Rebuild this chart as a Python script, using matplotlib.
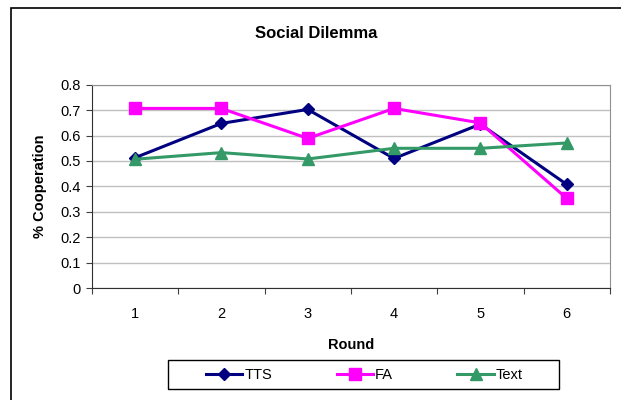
import matplotlib
matplotlib.use("Agg")
import matplotlib.pyplot as plt
from matplotlib.patches import Rectangle

# dados
rounds = [1, 2, 3, 4, 5, 6]
tts = [0.513, 0.648, 0.703, 0.510, 0.645, 0.408]
fa = [0.707, 0.707, 0.589, 0.707, 0.650, 0.353]
text = [0.507, 0.533, 0.508, 0.550, 0.550, 0.571]
yticks = [0, 0.1, 0.2, 0.3, 0.4, 0.5, 0.6, 0.7, 0.8]

plt.rcParams['font.family'] = ['Liberation Sans', 'DejaVu Sans']

fig = plt.figure(figsize=(6.21, 4.0), dpi=100)
ax = fig.add_axes([0.148, 0.28, 0.834, 0.508])

ax.plot(rounds, tts, color='#000080', lw=2.2, marker='D', ms=6.5, label='TTS')
ax.plot(rounds, fa, color='#FF00FF', lw=2.2, marker='s', ms=8, label='FA')
ax.plot(rounds, text, color='#339966', lw=2.2, marker='^', ms=8.5, label='Text')

ax.set_xlim(0.5, 6.5)
ax.set_ylim(0, 0.8)
ax.set_yticks(yticks)
ax.set_yticklabels([f"{v:g}" for v in yticks])
ax.set_xticks([r - 0.5 for r in rounds] + [6.5])
ax.set_xticklabels([])
ax.set_xticks(rounds, minor=True)
ax.set_xticklabels([str(r) for r in rounds], minor=True)
ax.tick_params(axis='x', which='minor', length=0, pad=14, labelsize=10.5)
ax.tick_params(axis='x', which='major', length=4, direction='out', color='#404040')
ax.tick_params(axis='y', length=4, direction='out', color='#404040', labelsize=10.5, pad=4)

ax.grid(axis='y', color='#c0c0c0', lw=1)
ax.set_axisbelow(True)
for s in ['top', 'right']:
    ax.spines[s].set_color('#909090')
for s in ['left', 'bottom']:
    ax.spines[s].set_color('#303030')

ax.set_xlabel("Round", fontsize=10.5, fontweight='bold', labelpad=12)
ax.set_ylabel("% Cooperation", fontsize=10.5, fontweight='bold', labelpad=10)
fig.text(0.509, 0.915, "Social Dilemma", ha='center', va='center', fontsize=12, fontweight='bold')

leg = fig.legend(loc='center', bbox_to_anchor=(0.587, 0.0625), ncol=3, frameon=False,
                 fontsize=10.5, handlelength=2.5, columnspacing=4.4, handletextpad=0.15)

# caixa da legenda e borda da figura
fig.patches.append(Rectangle((168 / 621, 11 / 400), 391 / 621, 29 / 400, transform=fig.transFigure,
                             fill=False, edgecolor='black', lw=1))
fig.patches.append(Rectangle((11 / 621, -0.1), 1.2, 1.1 - 8 / 400, transform=fig.transFigure,
                             fill=False, edgecolor='black', lw=1.2, clip_on=False))

plt.savefig("out.png", dpi=100)
